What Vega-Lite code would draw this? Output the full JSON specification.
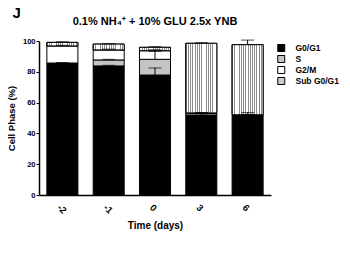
{
  "$schema": "https://vega.github.io/schema/vega-lite/v6.json",
  "padding": {"left": 6, "top": 6, "right": 0, "bottom": 0},
  "background": "white",
  "title": {"text": "J", "anchor": "start", "fontSize": 15, "font": "Liberation Sans", "fontWeight": "bold", "dx": 6, "dy": 5, "offset": 0, "color": "black"},
  "config": {"font": "Liberation Sans", "view": {"stroke": null}, "axisY": {"labelOverlap": "greedy", "labelSeparation": 0}},
  "resolve": {"legend": {"fill": "independent", "stroke": "independent"}},
  "datasets": {
    "cells": [
      {"time": "-2", "phase": "G0/G1", "ord": 1, "value": 85.3, "err": 0.4},
      {"time": "-2", "phase": "S", "ord": 2, "value": 0.4, "err": 0.2},
      {"time": "-2", "phase": "G2/M", "ord": 3, "value": 11.1, "err": 0.4},
      {"time": "-2", "phase": "Sub G0/G1", "ord": 4, "value": 2.3, "err": 0.4},
      {"time": "-1", "phase": "G0/G1", "ord": 1, "value": 83.8, "err": 0.4},
      {"time": "-1", "phase": "S", "ord": 2, "value": 3.9, "err": 0.4},
      {"time": "-1", "phase": "G2/M", "ord": 3, "value": 6.5, "err": 0.5},
      {"time": "-1", "phase": "Sub G0/G1", "ord": 4, "value": 3.8, "err": 0.3},
      {"time": "0", "phase": "G0/G1", "ord": 1, "value": 77.9, "err": 4.6},
      {"time": "0", "phase": "S", "ord": 2, "value": 10.2, "err": 5.2},
      {"time": "0", "phase": "G2/M", "ord": 3, "value": 5.6, "err": 0.6},
      {"time": "0", "phase": "Sub G0/G1", "ord": 4, "value": 2.2, "err": 0.4},
      {"time": "3", "phase": "G0/G1", "ord": 1, "value": 51.9, "err": 0.8},
      {"time": "3", "phase": "S", "ord": 2, "value": 1.1, "err": 0.4},
      {"time": "3", "phase": "G2/M", "ord": 3, "value": 0.3, "err": 0.1},
      {"time": "3", "phase": "Sub G0/G1", "ord": 4, "value": 45.2, "err": 0.4},
      {"time": "6", "phase": "G0/G1", "ord": 1, "value": 51.5, "err": 2.0},
      {"time": "6", "phase": "S", "ord": 2, "value": 0.4, "err": 0.2},
      {"time": "6", "phase": "G2/M", "ord": 3, "value": 0.2, "err": 0.1},
      {"time": "6", "phase": "Sub G0/G1", "ord": 4, "value": 45.5, "err": 3.0}
    ]
  },
  "vconcat": [
    {
      "width": 232,
      "height": 154,
      "title": {"text": "0.1% NH₄⁺ + 10% GLU 2.5x YNB", "fontSize": 11, "fontWeight": "bold", "color": "black", "offset": 10, "anchor": "middle"},
      "data": {"name": "cells"},
      "layer": [
        {
          "mark": {"type": "bar", "strokeWidth": 1},
          "encoding": {
            "x": {"field": "time", "type": "ordinal", "sort": ["-2", "-1", "0", "3", "6"],
                  "scale": {"paddingInner": 0.33, "paddingOuter": 0.17},
                  "axis": {"title": "Time (days)", "titleFontSize": 10, "titleFontWeight": "bold", "titleColor": "black", "titlePadding": 6,
                           "labelAngle": 45, "labelFontSize": 9.5, "labelFontWeight": "bold", "labelColor": "black", "labelPadding": 7,
                           "ticks": false, "domainColor": "black", "domainWidth": 1.5}},
            "y": {"field": "value", "type": "quantitative", "stack": "zero",
                  "scale": {"domain": [0, 100], "nice": false},
                  "axis": {"title": "Cell Phase (%)", "titleFontSize": 9.5, "titleFontWeight": "bold", "titleColor": "black", "titlePadding": 6,
                           "values": [0, 20, 40, 60, 80, 100], "labelOverlap": "greedy", "labelSeparation": 0, "labelFontSize": 7.5, "labelFontWeight": "bold", "labelColor": "black",
                           "labelPadding": 1, "tickSize": 3, "tickColor": "black", "domainColor": "black", "domainWidth": 1.5, "grid": false}},
            "order": {"field": "ord", "type": "quantitative"},
            "fill": {"field": "phase", "type": "nominal",
                     "scale": {"domain": ["G0/G1", "S", "G2/M", "Sub G0/G1"],
                               "range": ["#000000", "#c4c4c4", "#ffffff", "#cccccc"]},
                     "legend": {"title": null, "orient": "none", "legendX": 238, "legendY": 3, "symbolType": "square", "symbolSize": 49,
                                "labelFontSize": 8.5, "labelFontWeight": "bold", "clipHeight": 8,
                                "labelColor": "black", "labelOffset": 10, "rowPadding": 2, "padding": 0, "symbolStrokeWidth": 1}},
            "stroke": {"field": "phase", "type": "nominal",
                     "scale": {"domain": ["G0/G1", "S", "G2/M", "Sub G0/G1"],
                               "range": ["#000000", "#000000", "#000000", "#000000"]},
                     "legend": {"title": null, "orient": "none", "legendX": 238, "legendY": 3, "symbolType": "square", "symbolSize": 49,
                                "labelFontSize": 8.5, "labelFontWeight": "bold", "clipHeight": 8,
                                "labelColor": "black", "labelOffset": 10, "rowPadding": 2, "padding": 0, "symbolStrokeWidth": 1}}
          }
        },
        {
          "transform": [
            {"stack": "value", "groupby": ["time"], "sort": [{"field": "ord"}], "as": ["v0", "v1"]},
            {"filter": "datum.phase === 'Sub G0/G1'"}
          ],
          "mark": {"type": "bar", "stroke": "black", "strokeWidth": 1,
                   "fill": {"gradient": "linear", "x1": 0, "x2": 1, "y1": 0, "y2": 0, "stops": [
                     {"offset": 0, "color": "#8c8c8c"}, {"offset": 0.0286, "color": "#8c8c8c"}, {"offset": 0.0286, "color": "#ffffff"}, {"offset": 0.0714, "color": "#ffffff"},
                     {"offset": 0.0714, "color": "#8c8c8c"}, {"offset": 0.1, "color": "#8c8c8c"}, {"offset": 0.1, "color": "#ffffff"}, {"offset": 0.1429, "color": "#ffffff"},
                     {"offset": 0.1429, "color": "#8c8c8c"}, {"offset": 0.1714, "color": "#8c8c8c"}, {"offset": 0.1714, "color": "#ffffff"}, {"offset": 0.2143, "color": "#ffffff"},
                     {"offset": 0.2143, "color": "#8c8c8c"}, {"offset": 0.2429, "color": "#8c8c8c"}, {"offset": 0.2429, "color": "#ffffff"}, {"offset": 0.2857, "color": "#ffffff"},
                     {"offset": 0.2857, "color": "#8c8c8c"}, {"offset": 0.3143, "color": "#8c8c8c"}, {"offset": 0.3143, "color": "#ffffff"}, {"offset": 0.3571, "color": "#ffffff"},
                     {"offset": 0.3571, "color": "#8c8c8c"}, {"offset": 0.3857, "color": "#8c8c8c"}, {"offset": 0.3857, "color": "#ffffff"}, {"offset": 0.4286, "color": "#ffffff"},
                     {"offset": 0.4286, "color": "#8c8c8c"}, {"offset": 0.4571, "color": "#8c8c8c"}, {"offset": 0.4571, "color": "#ffffff"}, {"offset": 0.5, "color": "#ffffff"},
                     {"offset": 0.5, "color": "#8c8c8c"}, {"offset": 0.5286, "color": "#8c8c8c"}, {"offset": 0.5286, "color": "#ffffff"}, {"offset": 0.5714, "color": "#ffffff"},
                     {"offset": 0.5714, "color": "#8c8c8c"}, {"offset": 0.6, "color": "#8c8c8c"}, {"offset": 0.6, "color": "#ffffff"}, {"offset": 0.6429, "color": "#ffffff"},
                     {"offset": 0.6429, "color": "#8c8c8c"}, {"offset": 0.6714, "color": "#8c8c8c"}, {"offset": 0.6714, "color": "#ffffff"}, {"offset": 0.7143, "color": "#ffffff"},
                     {"offset": 0.7143, "color": "#8c8c8c"}, {"offset": 0.7429, "color": "#8c8c8c"}, {"offset": 0.7429, "color": "#ffffff"}, {"offset": 0.7857, "color": "#ffffff"},
                     {"offset": 0.7857, "color": "#8c8c8c"}, {"offset": 0.8143, "color": "#8c8c8c"}, {"offset": 0.8143, "color": "#ffffff"}, {"offset": 0.8571, "color": "#ffffff"},
                     {"offset": 0.8571, "color": "#8c8c8c"}, {"offset": 0.8857, "color": "#8c8c8c"}, {"offset": 0.8857, "color": "#ffffff"}, {"offset": 0.9286, "color": "#ffffff"},
                     {"offset": 0.9286, "color": "#8c8c8c"}, {"offset": 0.9571, "color": "#8c8c8c"}, {"offset": 0.9571, "color": "#ffffff"}, {"offset": 1, "color": "#ffffff"}
                   ]}},
          "encoding": {
            "x": {"field": "time", "type": "ordinal", "sort": ["-2", "-1", "0", "3", "6"]},
            "y": {"field": "v0", "type": "quantitative",
                  "axis": {"title": "Cell Phase (%)", "values": [0, 20, 40, 60, 80, 100], "labelOverlap": "greedy", "labelSeparation": 0}},
            "y2": {"field": "v1"}
          }
        },
        {
          "transform": [
            {"stack": "value", "groupby": ["time"], "sort": [{"field": "ord"}], "as": ["v0", "v1"]},
            {"calculate": "datum.v1 + datum.err", "as": "hi"}
          ],
          "mark": {"type": "rule", "color": "black", "strokeWidth": 1},
          "encoding": {
            "x": {"field": "time", "type": "ordinal", "sort": ["-2", "-1", "0", "3", "6"]},
            "y": {"field": "v1", "type": "quantitative",
                  "axis": {"title": "Cell Phase (%)", "values": [0, 20, 40, 60, 80, 100], "labelOverlap": "greedy", "labelSeparation": 0}},
            "y2": {"field": "hi"}
          }
        },
        {
          "transform": [
            {"stack": "value", "groupby": ["time"], "sort": [{"field": "ord"}], "as": ["v0", "v1"]},
            {"calculate": "datum.v1 + datum.err", "as": "hi"}
          ],
          "mark": {"type": "tick", "color": "black", "thickness": 1, "size": 13, "orient": "horizontal"},
          "encoding": {
            "x": {"field": "time", "type": "ordinal", "sort": ["-2", "-1", "0", "3", "6"]},
            "y": {"field": "hi", "type": "quantitative",
                  "axis": {"title": "Cell Phase (%)", "values": [0, 20, 40, 60, 80, 100], "labelOverlap": "greedy", "labelSeparation": 0}}
          }
        }
      ]
    }
  ]
}
